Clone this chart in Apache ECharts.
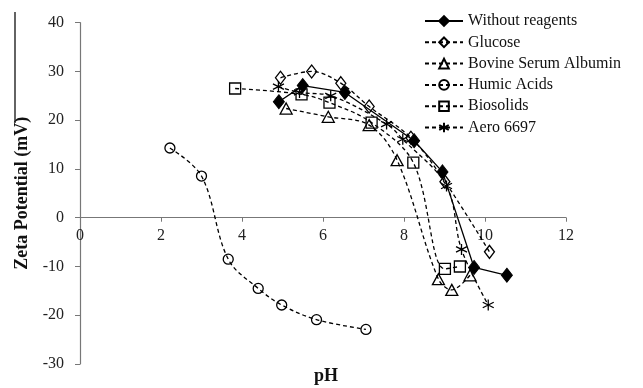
<!DOCTYPE html>
<html>
<head>
<meta charset="utf-8">
<script src="https://cdn.jsdelivr.net/npm/echarts@6/dist/echarts.min.js"></script>
<style>
  html, body { margin: 0; padding: 0; background: #fff; }
  #chart { width: 643px; height: 388px; }
</style>
</head>
<body>
<div id="chart"></div>
<script>
// Zeta potential (mV) against pH for each reagent
const withoutPH = [4.91, 5.50, 6.54, 8.25, 8.95, 9.73, 10.54];
const withoutZP = [23.8, 27.1, 25.7, 15.8, 9.4, -10.2, -11.8];

const glucosePH = [4.95, 5.72, 6.44, 7.14, 8.17, 9.01, 10.11];
const glucoseZP = [28.7, 30.0, 27.6, 22.8, 16.4, 7.4, -7.0];

const bsaPH = [5.09, 6.13, 7.14, 7.83, 8.85, 9.18, 9.63];
const bsaZP = [22.4, 20.7, 19.0, 11.8, -12.6, -14.8, -11.8];

const humicPH = [2.22, 3.00, 3.66, 4.40, 4.98, 5.84, 7.06];
const humicZP = [14.3, 8.55, -8.5, -14.5, -17.9, -20.9, -22.9];

const biosolidsPH = [3.83, 5.47, 6.16, 7.20, 8.23, 9.01, 9.38];
const biosolidsZP = [26.5, 25.3, 23.6, 19.5, 11.3, -10.5, -10.0];

const aeroPH = [4.90, 5.42, 6.19, 7.57, 7.97, 9.05, 9.42, 10.08];
const aeroZP = [26.9, 25.7, 25.0, 19.2, 16.1, 6.5, -6.5, -17.9];

const seriesNames = ['Without reagents', 'Glucose', 'Bovine Serum Albumin', 'Humic Acids', 'Biosolids', 'Aero 6697'];

const FONT = '"Liberation Serif", "Times New Roman", serif';
const ASTERISK = 'path://M0,-10L0,10M-8.66,-5L8.66,5M-8.66,5L8.66,-5';

function pairs(xs, ys) { return xs.map((x, i) => [x, ys[i]]); }

function makeSeries(name, xs, ys, symbol, size, opts) {
  return Object.assign({
    name: name,
    type: 'line',
    data: pairs(xs, ys),
    symbol: symbol,
    symbolSize: size,
    smooth: 0.35,
    lineStyle: { color: '#000', width: 1.3, type: [4, 3] },
    itemStyle: { color: 'rgba(255,255,255,0)', borderColor: '#000', borderWidth: 1.3 },
    emphasis: { disabled: true },
    z: 3
  }, opts || {});
}

const chart = echarts.init(document.getElementById('chart'), null, { renderer: 'canvas' });

chart.setOption({
  animation: false,
  backgroundColor: '#fff',
  textStyle: { fontFamily: FONT },
  grid: { left: 80, right: 77, top: 22.7, bottom: 24, containLabel: false, outerBoundsMode: 'none' },
  legend: {
    orient: 'vertical',
    left: 424,
    top: 13,
    padding: 0,
    itemWidth: 38,
    itemHeight: 12,
    itemGap: 5.3,
    data: seriesNames,
    textStyle: { fontFamily: FONT, fontSize: 16, color: '#111' },
    selectedMode: false
  },
  xAxis: {
    type: 'value',
    position: 'bottom',
    min: 0, max: 12, interval: 2,
    axisLine: { onZero: false, lineStyle: { color: '#777', width: 1.2 } },
    axisTick: { show: true, inside: false, length: 4, lineStyle: { color: '#777' } },
    axisLabel: { fontFamily: FONT, fontSize: 16, color: '#222', margin: 10 },
    splitLine: { show: false }
  },
  yAxis: {
    type: 'value',
    min: -30, max: 40, interval: 10,
    name: 'Zeta Potential (mV)',
    nameLocation: 'middle',
    nameGap: 48,
    nameTextStyle: { fontFamily: FONT, fontSize: 18, fontWeight: 'bold', color: '#111' },
    axisLine: { show: true, onZero: false, lineStyle: { color: '#777', width: 1.2 } },
    axisTick: { show: true, inside: false, length: 5, lineStyle: { color: '#777' } },
    axisLabel: { fontFamily: FONT, fontSize: 16, color: '#222', margin: 16 },
    splitLine: { show: false }
  },
  graphic: [
    {
      type: 'text',
      left: 314, top: 367,
      style: { text: 'pH', font: 'bold 18px ' + FONT, fill: '#111' }
    },
    {
      type: 'line',
      shape: { x1: 15, y1: 12, x2: 15, y2: 123 },
      style: { stroke: '#222', lineWidth: 1.4 }
    }
  ],
  series: [
    makeSeries(seriesNames[0], withoutPH, withoutZP, 'diamond', [11, 14], {
      smooth: false,
      lineStyle: { color: '#000', width: 1.3, type: 'solid' },
      itemStyle: { color: '#000', borderColor: '#000', borderWidth: 1 },
      z: 4
    }),
    makeSeries(seriesNames[1], glucosePH, glucoseZP, 'diamond', [10, 13]),
    makeSeries(seriesNames[2], bsaPH, bsaZP, 'triangle', [12, 11]),
    makeSeries(seriesNames[3], humicPH, humicZP, 'circle', 10),
    makeSeries(seriesNames[4], biosolidsPH, biosolidsZP, 'rect', 11),
    makeSeries(seriesNames[5], aeroPH, aeroZP, ASTERISK, 11, {
      itemStyle: { color: 'rgba(255,255,255,0)', borderColor: '#000', borderWidth: 1.3 }
    })
  ]
});

// Lift the pH axis (line, ticks and labels) up to the zero line of the zeta axis
const zeroY = chart.convertToPixel({ yAxisIndex: 0 }, 0);
const bottomY = chart.convertToPixel({ yAxisIndex: 0 }, -30);
chart.setOption({ xAxis: { offset: -(bottomY - zeroY) } });
</script>
</body>
</html>
